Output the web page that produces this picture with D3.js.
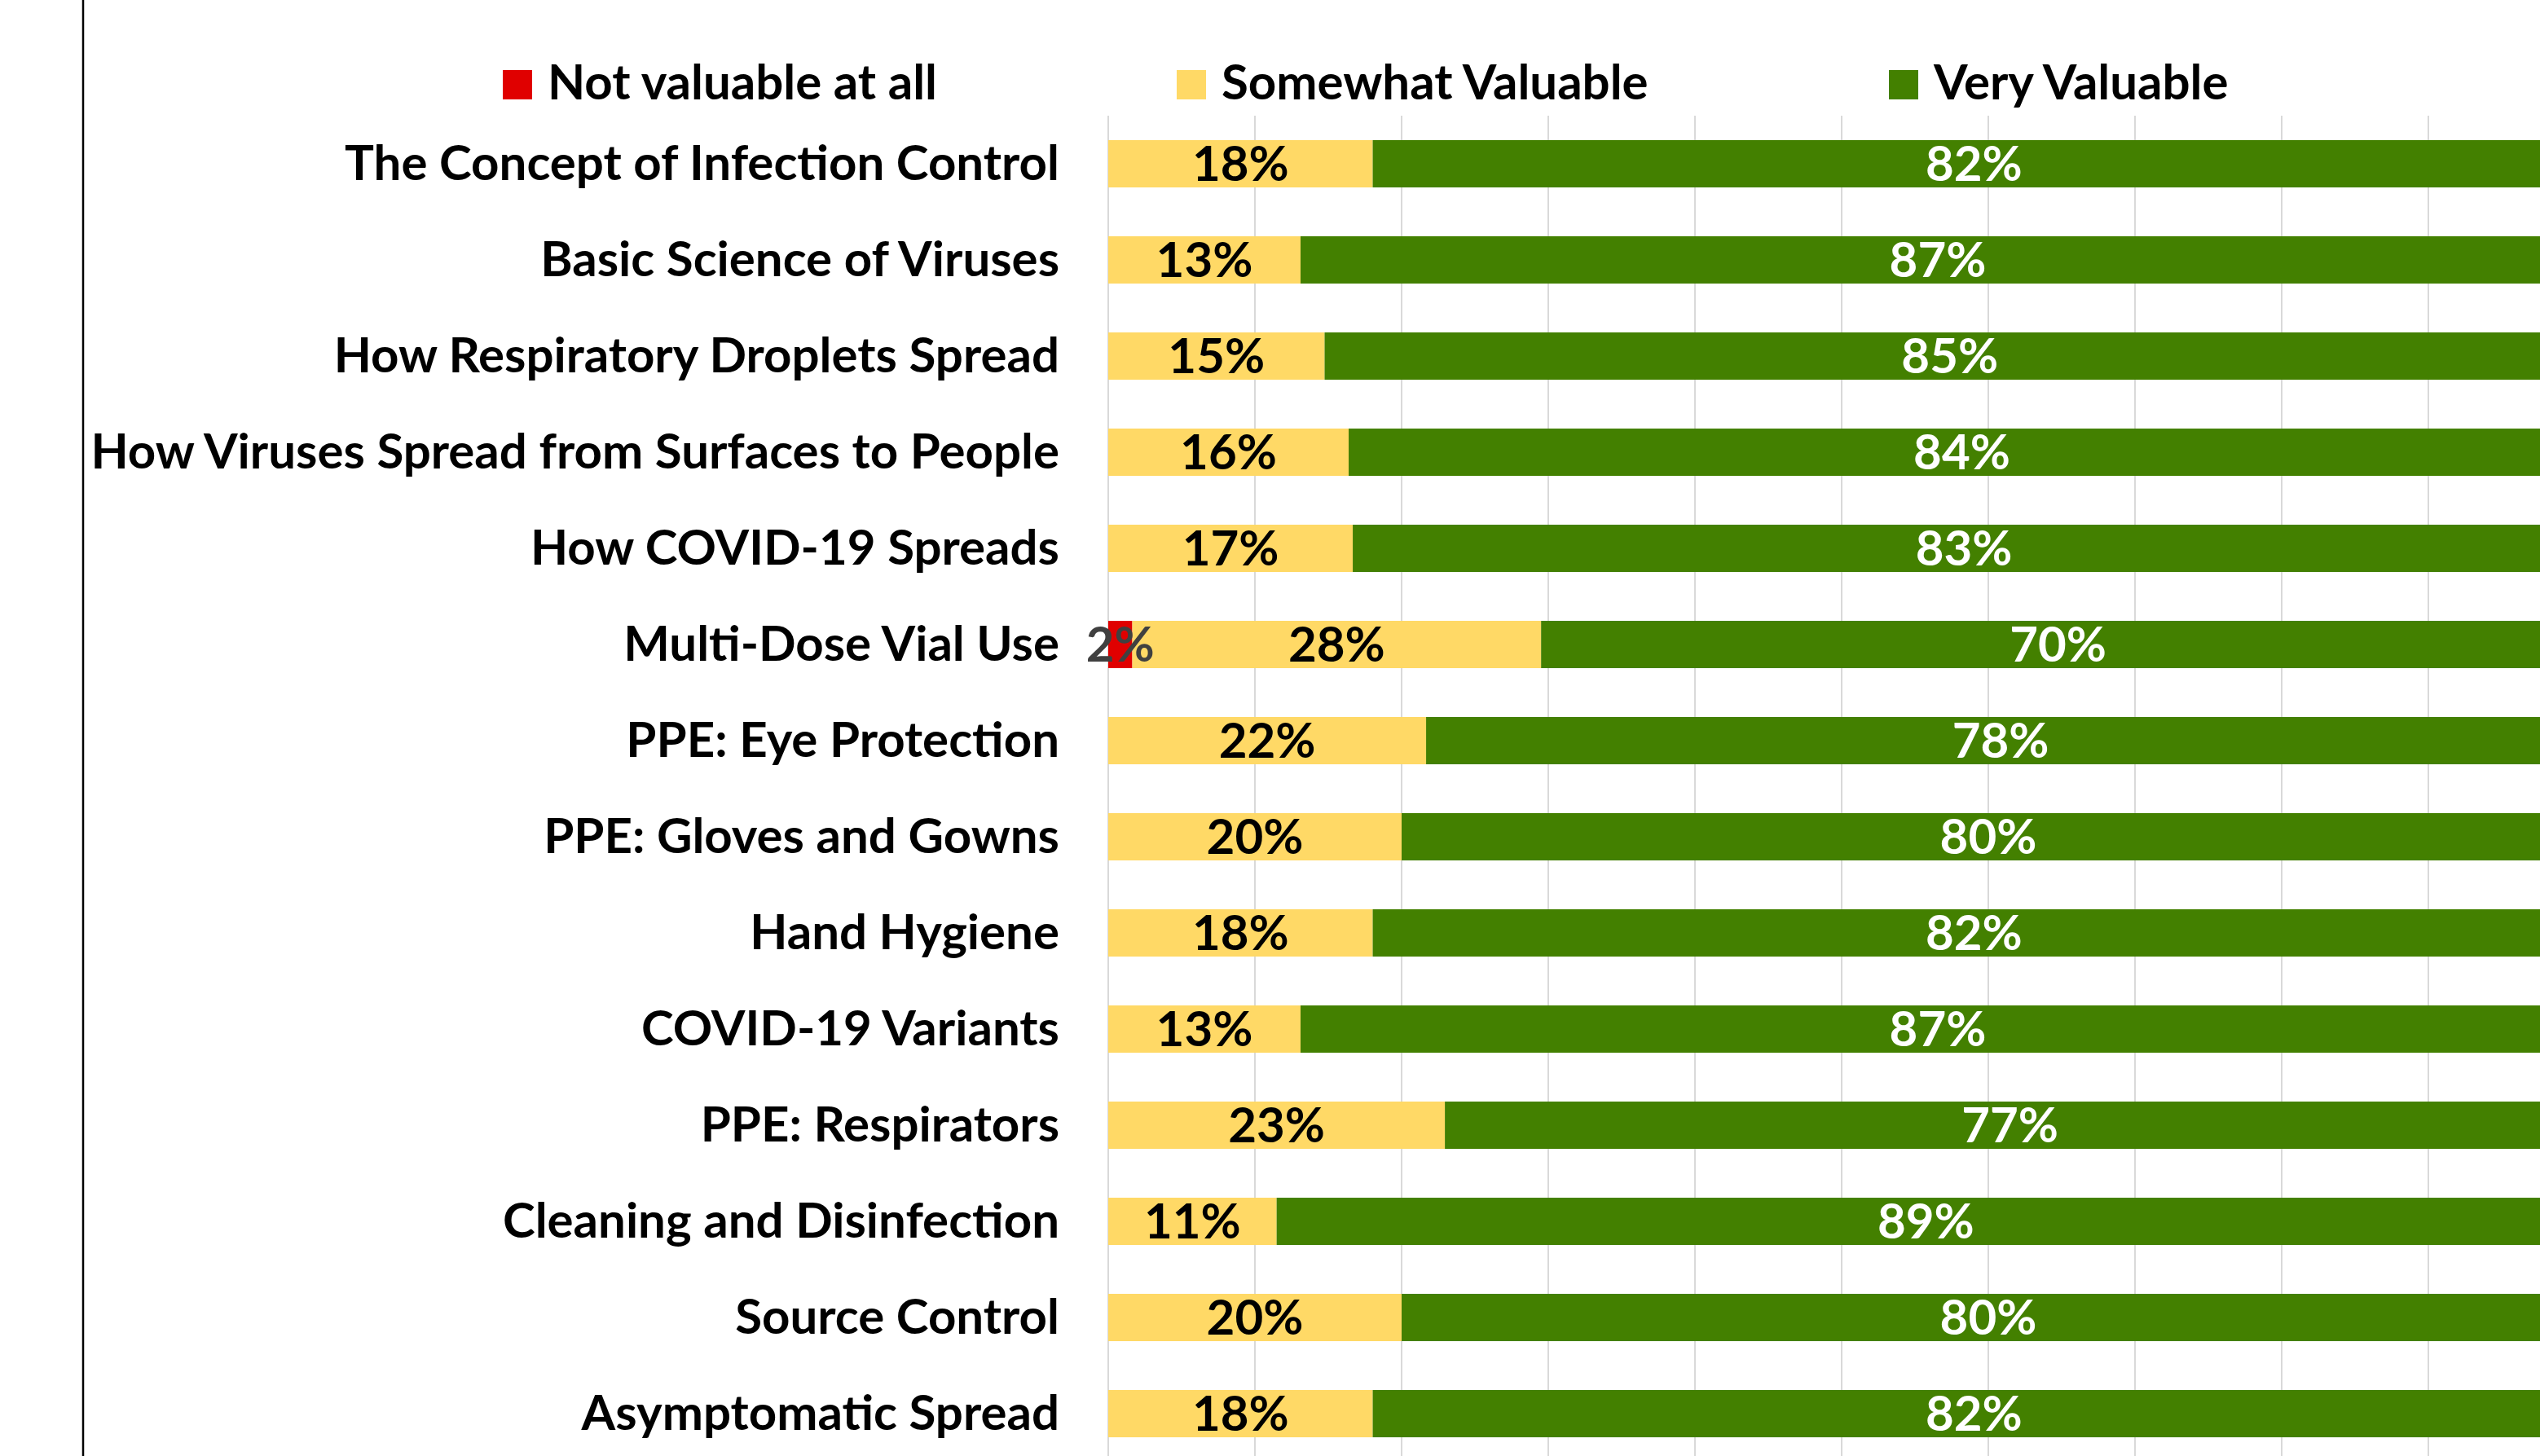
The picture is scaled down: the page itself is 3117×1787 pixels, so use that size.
<!DOCTYPE html>
<html>
<head>
<meta charset="utf-8">
<script src="https://cdn.jsdelivr.net/npm/d3@7"></script>
<style>
  html, body { margin: 0; padding: 0; background: #fff; }
  svg text { font-family: "Lato", "Open Sans", sans-serif; font-weight: bold; }
</style>
</head>
<body>
<svg id="chart"></svg>
<script>
// data (percent of respondents)
const categories = [
    "The Concept of Infection Control",
    "Basic Science of Viruses",
    "How Respiratory Droplets Spread",
    "How Viruses Spread from Surfaces to People",
    "How COVID-19 Spreads",
    "Multi-Dose Vial Use",
    "PPE: Eye Protection",
    "PPE: Gloves and Gowns",
    "Hand Hygiene",
    "COVID-19 Variants",
    "PPE: Respirators",
    "Cleaning and Disinfection",
    "Source Control",
    "Asymptomatic Spread"
];
const seriesNames = ["Not valuable at all", "Somewhat Valuable", "Very Valuable"];
const notValuable = [0, 0, 0, 0, 0, 1.64, 0, 0, 0, 0, 0, 0, 0, 0];
const somewhatValuable = [18.03, 13.11, 14.75, 16.39, 16.67, 27.87, 21.67, 20, 18.03, 13.11, 22.95, 11.48, 20, 18.03];
const veryValuable = [81.97, 86.89, 85.25, 83.61, 83.33, 70.49, 78.33, 80, 81.97, 86.89, 77.05, 88.52, 80, 81.97];
const xTicks = [0, 10, 20, 30, 40, 50, 60, 70, 80, 90, 100];

const colors = ["#E00000", "#FFD966", "#438000"];
const labelColors = ["#404040", "#000000", "#ffffff"];

const width = 3117, height = 1787;
const fontSize = 60;

const svg = d3.select("#chart")
    .attr("width", width)
    .attr("height", height);

svg.append("rect").attr("width", width).attr("height", height).attr("fill", "#fff");

const x = d3.scaleLinear().domain([0, 100]).range([1360, 3160]);
const y = d3.scaleBand().domain(categories).range([142, 1794])
    .paddingInner(0.508).paddingOuter(0.254);

// gridlines
svg.append("g")
    .selectAll("line")
    .data(xTicks)
    .enter()
    .append("line")
    .attr("x1", d => x(d)).attr("x2", d => x(d))
    .attr("y1", 142).attr("y2", 1794)
    .attr("stroke", "#D9D9D9")
    .attr("stroke-width", 2);

const rows = categories.map((c, i) => ({
    cat: c,
    vals: [notValuable[i], somewhatValuable[i], veryValuable[i]]
}));

const stack = d3.stack().keys([0, 1, 2]).value((d, k) => d.vals[k]);
const layers = stack(rows);

const layer = svg.append("g")
    .selectAll("g")
    .data(layers)
    .enter()
    .append("g")
    .attr("fill", (d, i) => colors[i]);

layer.selectAll("rect")
    .data(d => d)
    .enter()
    .append("rect")
    .filter(d => d[1] > d[0])
    .attr("x", d => x(d[0]))
    .attr("width", d => x(d[1]) - x(d[0]))
    .attr("y", d => y(d.data.cat))
    .attr("height", y.bandwidth());

// data labels, centred in each segment
const labels = svg.append("g");
layers.forEach((l, i) => {
    labels.selectAll(null)
        .data(l.filter(d => d[1] > d[0]))
        .enter()
        .append("text")
        .attr("x", d => (x(d[0]) + x(d[1])) / 2)
        .attr("y", d => y(d.data.cat) + y.bandwidth() / 2 + 21)
        .attr("text-anchor", "middle")
        .attr("font-size", fontSize)
        .attr("fill", labelColors[i])
        .text(d => Math.round(d[1] - d[0]) + "%");
});

// category labels
svg.append("g")
    .selectAll("text")
    .data(categories)
    .enter()
    .append("text")
    .attr("x", 1300)
    .attr("y", d => y(d) + y.bandwidth() / 2 + 20)
    .attr("text-anchor", "end")
    .attr("font-size", fontSize)
    .attr("fill", "#000")
    .text(d => d);

// legend
const legendX = [617, 1444, 2318];
const legend = svg.append("g")
    .selectAll("g")
    .data(seriesNames)
    .enter()
    .append("g")
    .attr("transform", (d, i) => `translate(${legendX[i]},122)`);

legend.append("rect")
    .attr("x", 0).attr("y", -36)
    .attr("width", 36).attr("height", 36)
    .attr("fill", (d, i) => colors[i]);

legend.append("text")
    .attr("x", 55)
    .attr("y", 0)
    .attr("font-size", fontSize)
    .attr("fill", "#000")
    .text(d => d);

// left border line
svg.append("line")
    .attr("x1", 102).attr("x2", 102)
    .attr("y1", 0).attr("y2", height)
    .attr("stroke", "#000")
    .attr("stroke-width", 2.5);
</script>
</body>
</html>
